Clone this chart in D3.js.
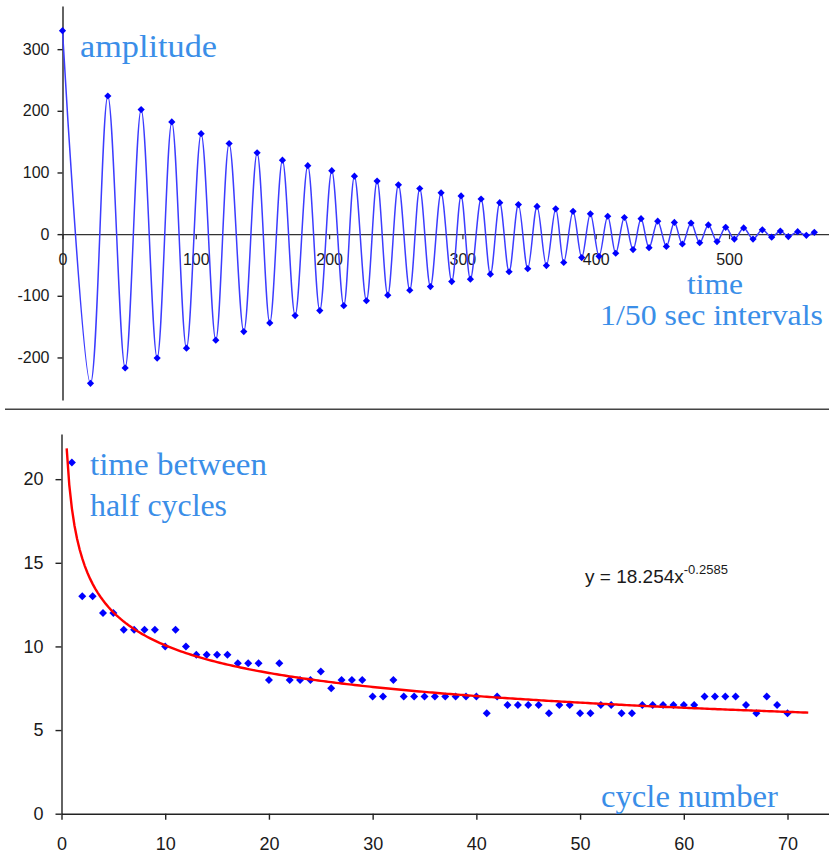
<!DOCTYPE html>
<html>
<head>
<meta charset="utf-8">
<script src="https://cdn.jsdelivr.net/npm/d3@7/dist/d3.min.js"></script>
<style>
  html, body { margin: 0; padding: 0; background: #fff; }
  svg { display: block; }
  .tick text { fill: #1a1a1a; font-family: "Liberation Sans", Arial, sans-serif; }
  .note { fill: #3a8ee8; font-family: "Liberation Serif", "Times New Roman", serif; }
</style>
</head>
<body>
<svg id="chart" width="829" height="856"></svg>
<script>
// Damped oscillation: time (1/50 s samples) and amplitude at each turning point
const extremeTime = [
  0, 21, 34, 47, 59, 71, 82, 93, 104, 115,
  125, 136, 146, 155.5, 165, 174.5, 184, 193, 202, 211,
  219, 228, 236, 244, 252, 260.5, 268, 276, 284, 292,
  299, 306, 314, 321, 328, 335, 342, 349, 356, 363,
  370, 376, 383, 389.5, 396, 402.5, 409, 415, 421.5, 428,
  434, 440, 446.5, 453, 459, 465, 471.5, 478, 484.5, 491,
  497.5, 504, 511, 518, 525, 532, 538.5, 544.5, 551.5, 558,
  564
];
const extremeAmplitude = [
  330, -242, 224, -217, 202, -201, 182, -185, 163, -172,
  147, -158, 132, -144, 120, -132, 111, -124, 103, -116,
  94, -108, 86, -99, 80, -91, 74, -85, 67, -77,
  62, -73, 57, -65, 51, -61, 48, -56, 45, -51,
  41, -46, 37, -38, 33, -36, 29, -31, 27, -25,
  25, -22, 21, -20, 19, -16, 18, -14, 15, -12,
  11, -8, 10, -8, 7, -5, 5, -4, 4, -2,
  3
];

// Time between successive half cycles
const cycleNumber = [
  1, 2, 3, 4, 5, 6, 7, 8, 9, 10,
  11, 12, 13, 14, 15, 16, 17, 18, 19, 20,
  21, 22, 23, 24, 25, 26, 27, 28, 29, 30,
  31, 32, 33, 34, 35, 36, 37, 38, 39, 40,
  41, 42, 43, 44, 45, 46, 47, 48, 49, 50,
  51, 52, 53, 54, 55, 56, 57, 58, 59, 60,
  61, 62, 63, 64, 65, 66, 67, 68, 69, 70
];
const halfCycleTime = [
  21, 13, 13, 12, 12, 11, 11, 11, 11, 10,
  11, 10, 9.5, 9.5, 9.5, 9.5, 9, 9, 9, 8,
  9, 8, 8, 8, 8.5, 7.5, 8, 8, 8, 7,
  7, 8, 7, 7, 7, 7, 7, 7, 7, 7,
  6, 7, 6.5, 6.5, 6.5, 6.5, 6, 6.5, 6.5, 6,
  6, 6.5, 6.5, 6, 6, 6.5, 6.5, 6.5, 6.5, 6.5,
  6.5, 7, 7, 7, 7, 6.5, 6, 7, 6.5, 6
];

// Power-law trendline y = a * x^b
const trendCoef = 18.254;
const trendExp = -0.2585;
const trendFrom = 0.5;
const trendTo = 72;

// Tick values
const ampTicks = [-200, -100, 0, 100, 200, 300];
const timeTicks = [0, 100, 200, 300, 400, 500];
const halfTicks = [0, 5, 10, 15, 20];
const cycleTicks = [0, 10, 20, 30, 40, 50, 60, 70];

const svg = d3.select("#chart");

function diamond(r) {
  return `M0,${-r}L${r},0L0,${r}L${-r},0Z`;
}

function styleAxis(g, color, width, fontSize) {
  g.selectAll("path.domain").attr("stroke", color).attr("stroke-width", width);
  g.selectAll(".tick line").attr("stroke", color).attr("stroke-width", width);
  g.selectAll(".tick text").attr("font-size", fontSize);
}

// ---------- Upper panel: amplitude vs time ----------
const xTop = d3.scaleLinear().domain([0, 575]).range([62.5, 829]);
const yTop = d3.scaleLinear().domain([-269, 370]).range([400, 6]);

const upper = svg.append("g");

upper.append("g")
  .attr("transform", `translate(0,${yTop(0)})`)
  .call(d3.axisBottom(xTop).tickValues(timeTicks).tickFormat(d => String(d))
    .tickSizeInner(5).tickSizeOuter(0).tickPadding(14.5))
  .call(g => styleAxis(g, "#333", 1.2, 16));

upper.append("g")
  .attr("transform", `translate(${xTop(0)},0)`)
  .call(d3.axisLeft(yTop).tickValues(ampTicks).tickFormat(d => String(d))
    .tickSizeInner(5).tickSizeOuter(0).tickPadding(8))
  .call(g => styleAxis(g, "#222", 1.4, 16));

const ampPoints = extremeTime.map((t, i) => [t, extremeAmplitude[i]]);

upper.append("path")
  .datum(ampPoints)
  .attr("fill", "none")
  .attr("stroke", "#3c3cff")
  .attr("stroke-width", 1.5)
  .attr("d", d3.line().x(d => xTop(d[0])).y(d => yTop(d[1])).curve(d3.curveCatmullRom.alpha(0.5)));

upper.append("g").selectAll("path")
  .data(ampPoints)
  .join("path")
  .attr("transform", d => `translate(${xTop(d[0])},${yTop(d[1])})`)
  .attr("d", diamond(3.6))
  .attr("fill", "#0000ff");

upper.append("text").attr("class", "note")
  .attr("x", 80).attr("y", 57).attr("font-size", 32)
  .attr("textLength", 137).attr("lengthAdjust", "spacingAndGlyphs")
  .text("amplitude");
upper.append("text").attr("class", "note")
  .attr("x", 687).attr("y", 294).attr("font-size", 30)
  .attr("textLength", 56).attr("lengthAdjust", "spacingAndGlyphs")
  .text("time");
upper.append("text").attr("class", "note")
  .attr("x", 600).attr("y", 325).attr("font-size", 30)
  .attr("textLength", 223).attr("lengthAdjust", "spacingAndGlyphs")
  .text("1/50 sec intervals");

// Divider between the panels
svg.append("line")
  .attr("x1", 5).attr("x2", 829).attr("y1", 409.3).attr("y2", 409.3)
  .attr("stroke", "#444").attr("stroke-width", 1.6);

// ---------- Lower panel: half-cycle duration vs cycle number ----------
const xBot = d3.scaleLinear().domain([0, 74]).range([61.5, 829]);
const yBot = d3.scaleLinear().domain([0, 22.7]).range([813.7, 434]);

const lower = svg.append("g");

lower.append("g")
  .attr("transform", `translate(0,${yBot(0)})`)
  .call(d3.axisBottom(xBot).tickValues(cycleTicks).tickFormat(d => String(d))
    .tickSizeInner(6).tickSizeOuter(0).tickPadding(17.5))
  .call(g => styleAxis(g, "#222", 1.4, 18));

lower.append("g")
  .attr("transform", `translate(${xBot(0)},0)`)
  .call(d3.axisLeft(yBot).tickValues(halfTicks).tickFormat(d => String(d))
    .tickSizeInner(6).tickSizeOuter(0).tickPadding(12))
  .call(g => styleAxis(g, "#222", 1.4, 18));

lower.append("g").selectAll("path")
  .data(cycleNumber.map((c, i) => [c, halfCycleTime[i]]))
  .join("path")
  .attr("transform", d => `translate(${xBot(d[0])},${yBot(d[1])})`)
  .attr("d", diamond(4))
  .attr("fill", "#0000ff");

const trendX = d3.range(trendFrom, trendTo, 0.25).concat([trendTo]);
lower.append("path")
  .datum(trendX.map(x => [x, trendCoef * Math.pow(x, trendExp)]))
  .attr("fill", "none")
  .attr("stroke", "#ff0000")
  .attr("stroke-width", 2.4)
  .attr("d", d3.line().x(d => xBot(d[0])).y(d => yBot(d[1])));

const eq = lower.append("text")
  .attr("x", 585).attr("y", 583)
  .attr("font-family", "'Liberation Sans', Arial, sans-serif")
  .attr("font-size", 19).attr("fill", "#1a1a1a");
eq.append("tspan").text(`y = ${trendCoef}x`);
eq.append("tspan").attr("font-size", 13).attr("dy", -9.5).text(String(trendExp));

lower.append("text").attr("class", "note")
  .attr("x", 90).attr("y", 475).attr("font-size", 32)
  .attr("textLength", 177).attr("lengthAdjust", "spacingAndGlyphs")
  .text("time between");
lower.append("text").attr("class", "note")
  .attr("x", 90).attr("y", 516).attr("font-size", 32)
  .attr("textLength", 137).attr("lengthAdjust", "spacingAndGlyphs")
  .text("half cycles");
lower.append("text").attr("class", "note")
  .attr("x", 601).attr("y", 807).attr("font-size", 32)
  .attr("textLength", 177).attr("lengthAdjust", "spacingAndGlyphs")
  .text("cycle number");
</script>
</body>
</html>
